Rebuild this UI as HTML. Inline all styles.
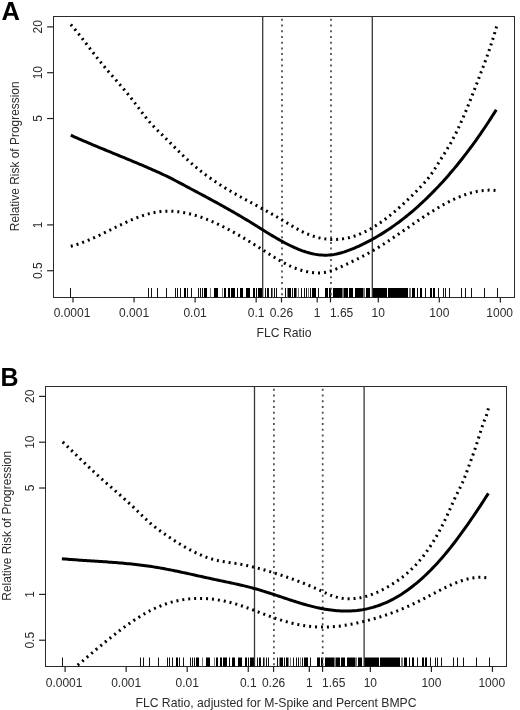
<!DOCTYPE html>
<html><head><meta charset="utf-8"><style>
html,body{margin:0;padding:0;background:#fff;}
svg{display:block;will-change:transform;}
text{font-family:"Liberation Sans",sans-serif;fill:#2b2b2b;}
</style></head><body>
<svg width="520" height="710" viewBox="0 0 520 710">
<rect width="520" height="710" fill="#fff"/>
<text x="1.6" y="19.6" font-family="Liberation Sans, sans-serif" font-weight="bold" font-size="25.5" style="fill:#000">A</text>
<clipPath id="cA"><rect x="53.5" y="16.5" width="461.0" height="281.0"/></clipPath>
<rect x="53.5" y="16.5" width="461.0" height="281.0" fill="none" stroke="#2a2a2a" stroke-width="1"/>
<line x1="47.1" y1="26.88" x2="53.5" y2="26.88" stroke="#222" stroke-width="1.2"/>
<text transform="translate(41.5,26.88) rotate(-90) scale(1,1.13)" text-anchor="middle" font-family="Liberation Sans, sans-serif" font-size="12">20</text>
<line x1="47.1" y1="72.70" x2="53.5" y2="72.70" stroke="#222" stroke-width="1.2"/>
<text transform="translate(41.5,72.70) rotate(-90) scale(1,1.13)" text-anchor="middle" font-family="Liberation Sans, sans-serif" font-size="12">10</text>
<line x1="47.1" y1="118.52" x2="53.5" y2="118.52" stroke="#222" stroke-width="1.2"/>
<text transform="translate(41.5,118.52) rotate(-90) scale(1,1.13)" text-anchor="middle" font-family="Liberation Sans, sans-serif" font-size="12">5</text>
<line x1="47.1" y1="224.90" x2="53.5" y2="224.90" stroke="#222" stroke-width="1.2"/>
<text transform="translate(41.5,224.90) rotate(-90) scale(1,1.13)" text-anchor="middle" font-family="Liberation Sans, sans-serif" font-size="12">1</text>
<line x1="47.1" y1="270.72" x2="53.5" y2="270.72" stroke="#222" stroke-width="1.2"/>
<text transform="translate(41.5,270.72) rotate(-90) scale(1,1.13)" text-anchor="middle" font-family="Liberation Sans, sans-serif" font-size="12">0.5</text>
<line x1="73.00" y1="297.5" x2="73.00" y2="302.4" stroke="#222" stroke-width="1.2"/>
<text x="72.00" y="317" text-anchor="middle" font-family="Liberation Sans, sans-serif" font-size="12">0.0001</text>
<line x1="134.05" y1="297.5" x2="134.05" y2="302.4" stroke="#222" stroke-width="1.2"/>
<text x="134.05" y="317" text-anchor="middle" font-family="Liberation Sans, sans-serif" font-size="12">0.001</text>
<line x1="195.10" y1="297.5" x2="195.10" y2="302.4" stroke="#222" stroke-width="1.2"/>
<text x="195.10" y="317" text-anchor="middle" font-family="Liberation Sans, sans-serif" font-size="12">0.01</text>
<line x1="256.15" y1="297.5" x2="256.15" y2="302.4" stroke="#222" stroke-width="1.2"/>
<text x="256.15" y="317" text-anchor="middle" font-family="Liberation Sans, sans-serif" font-size="12">0.1</text>
<line x1="281.48" y1="297.5" x2="281.48" y2="302.4" stroke="#222" stroke-width="1.2"/>
<text x="281.48" y="317" text-anchor="middle" font-family="Liberation Sans, sans-serif" font-size="12">0.26</text>
<line x1="317.20" y1="297.5" x2="317.20" y2="302.4" stroke="#222" stroke-width="1.2"/>
<text x="317.20" y="317" text-anchor="middle" font-family="Liberation Sans, sans-serif" font-size="12">1</text>
<line x1="330.48" y1="297.5" x2="330.48" y2="302.4" stroke="#222" stroke-width="1.2"/>
<text x="329.88" y="317" font-family="Liberation Sans, sans-serif" font-size="12">1.65</text>
<line x1="378.25" y1="297.5" x2="378.25" y2="302.4" stroke="#222" stroke-width="1.2"/>
<text x="378.25" y="317" text-anchor="middle" font-family="Liberation Sans, sans-serif" font-size="12">10</text>
<line x1="439.30" y1="297.5" x2="439.30" y2="302.4" stroke="#222" stroke-width="1.2"/>
<text x="439.30" y="317" text-anchor="middle" font-family="Liberation Sans, sans-serif" font-size="12">100</text>
<line x1="500.35" y1="297.5" x2="500.35" y2="302.4" stroke="#222" stroke-width="1.2"/>
<text x="499.65" y="317" text-anchor="middle" font-family="Liberation Sans, sans-serif" font-size="12">1000</text>
<text x="284.00" y="337" text-anchor="middle" font-family="Liberation Sans, sans-serif" font-size="12.2">FLC Ratio</text>
<text transform="translate(18.7,156.3) rotate(-90) scale(0.995,1.13)" text-anchor="middle" font-family="Liberation Sans, sans-serif" font-size="12">Relative Risk of Progression</text>
<line x1="70.5" y1="288" x2="70.5" y2="297.5" stroke="#111" stroke-width="1"/>
<line x1="148.5" y1="288" x2="148.5" y2="297.5" stroke="#111" stroke-width="1"/>
<line x1="151.5" y1="288" x2="151.5" y2="297.5" stroke="#111" stroke-width="1"/>
<line x1="157.5" y1="288" x2="157.5" y2="297.5" stroke="#111" stroke-width="1"/>
<line x1="166.5" y1="288" x2="166.5" y2="297.5" stroke="#111" stroke-width="1"/>
<line x1="175.5" y1="288" x2="175.5" y2="297.5" stroke="#111" stroke-width="1"/>
<line x1="177.5" y1="288" x2="177.5" y2="297.5" stroke="#111" stroke-width="1"/>
<line x1="180.5" y1="288" x2="180.5" y2="297.5" stroke="#111" stroke-width="1"/>
<line x1="187.5" y1="288" x2="187.5" y2="297.5" stroke="#111" stroke-width="1"/>
<line x1="191.5" y1="288" x2="191.5" y2="297.5" stroke="#111" stroke-width="1"/>
<line x1="198.5" y1="288" x2="198.5" y2="297.5" stroke="#111" stroke-width="1"/>
<line x1="200.5" y1="288" x2="200.5" y2="297.5" stroke="#111" stroke-width="1"/>
<line x1="202.5" y1="288" x2="202.5" y2="297.5" stroke="#111" stroke-width="1"/>
<line x1="265.5" y1="288" x2="265.5" y2="297.5" stroke="#111" stroke-width="1"/>
<line x1="267.5" y1="288" x2="267.5" y2="297.5" stroke="#111" stroke-width="1"/>
<line x1="268.5" y1="288" x2="268.5" y2="297.5" stroke="#111" stroke-width="1"/>
<line x1="271.5" y1="288" x2="271.5" y2="297.5" stroke="#111" stroke-width="1"/>
<line x1="274.5" y1="288" x2="274.5" y2="297.5" stroke="#111" stroke-width="1"/>
<line x1="276.5" y1="288" x2="276.5" y2="297.5" stroke="#111" stroke-width="1"/>
<line x1="285.5" y1="288" x2="285.5" y2="297.5" stroke="#111" stroke-width="1"/>
<line x1="292.5" y1="288" x2="292.5" y2="297.5" stroke="#111" stroke-width="1"/>
<line x1="301.5" y1="288" x2="301.5" y2="297.5" stroke="#111" stroke-width="1"/>
<line x1="304.5" y1="288" x2="304.5" y2="297.5" stroke="#111" stroke-width="1"/>
<line x1="306.5" y1="288" x2="306.5" y2="297.5" stroke="#111" stroke-width="1"/>
<line x1="310.5" y1="288" x2="310.5" y2="297.5" stroke="#111" stroke-width="1"/>
<line x1="318.5" y1="288" x2="318.5" y2="297.5" stroke="#111" stroke-width="1"/>
<line x1="425.5" y1="288" x2="425.5" y2="297.5" stroke="#111" stroke-width="1"/>
<line x1="438.5" y1="288" x2="438.5" y2="297.5" stroke="#111" stroke-width="1"/>
<line x1="443.5" y1="288" x2="443.5" y2="297.5" stroke="#111" stroke-width="1"/>
<line x1="445.5" y1="288" x2="445.5" y2="297.5" stroke="#111" stroke-width="1"/>
<line x1="449.5" y1="288" x2="449.5" y2="297.5" stroke="#111" stroke-width="1"/>
<line x1="461.5" y1="288" x2="461.5" y2="297.5" stroke="#111" stroke-width="1"/>
<line x1="465.5" y1="288" x2="465.5" y2="297.5" stroke="#111" stroke-width="1"/>
<line x1="471.5" y1="288" x2="471.5" y2="297.5" stroke="#111" stroke-width="1"/>
<line x1="484.5" y1="288" x2="484.5" y2="297.5" stroke="#111" stroke-width="1"/>
<line x1="497.5" y1="288" x2="497.5" y2="297.5" stroke="#111" stroke-width="1"/>
<line x1="210.5" y1="288" x2="210.5" y2="297.5" stroke="#777" stroke-width="1"/>
<line x1="222.5" y1="288" x2="222.5" y2="297.5" stroke="#777" stroke-width="1"/>
<line x1="272.5" y1="288" x2="272.5" y2="297.5" stroke="#777" stroke-width="1"/>
<line x1="287.5" y1="288" x2="287.5" y2="297.5" stroke="#777" stroke-width="1"/>
<line x1="296.5" y1="288" x2="296.5" y2="297.5" stroke="#777" stroke-width="1"/>
<line x1="298.5" y1="288" x2="298.5" y2="297.5" stroke="#777" stroke-width="1"/>
<line x1="308.5" y1="288" x2="308.5" y2="297.5" stroke="#777" stroke-width="1"/>
<rect x="184" y="288" width="2" height="9.5" fill="#000"/>
<rect x="204" y="288" width="3" height="9.5" fill="#000"/>
<rect x="214" y="288" width="4" height="9.5" fill="#000"/>
<rect x="224" y="288" width="2" height="9.5" fill="#000"/>
<rect x="228" y="288" width="2" height="9.5" fill="#000"/>
<rect x="231" y="288" width="4" height="9.5" fill="#000"/>
<rect x="237" y="288" width="1" height="9.5" fill="#000"/>
<rect x="240" y="288" width="3" height="9.5" fill="#000"/>
<rect x="246" y="288" width="4" height="9.5" fill="#000"/>
<rect x="253" y="288" width="2" height="9.5" fill="#000"/>
<rect x="256" y="288" width="1" height="9.5" fill="#000"/>
<rect x="258" y="288" width="5" height="9.5" fill="#000"/>
<rect x="288" y="288" width="3" height="9.5" fill="#000"/>
<rect x="294" y="288" width="2" height="9.5" fill="#000"/>
<rect x="312" y="288" width="4" height="9.5" fill="#000"/>
<rect x="325" y="288" width="3" height="9.5" fill="#000"/>
<rect x="329" y="288" width="2" height="9.5" fill="#000"/>
<rect x="333" y="288" width="9" height="9.5" fill="#000"/>
<rect x="344" y="288" width="4" height="9.5" fill="#000"/>
<rect x="349" y="288" width="4" height="9.5" fill="#000"/>
<rect x="355" y="288" width="8" height="9.5" fill="#000"/>
<rect x="366" y="288" width="4" height="9.5" fill="#000"/>
<rect x="372" y="288" width="15" height="9.5" fill="#000"/>
<rect x="388" y="288" width="20" height="9.5" fill="#000"/>
<rect x="412" y="288" width="3" height="9.5" fill="#000"/>
<rect x="417" y="288" width="1" height="9.5" fill="#000"/>
<rect x="420" y="288" width="2" height="9.5" fill="#000"/>
<rect x="430" y="288" width="2" height="9.5" fill="#000"/>
<rect x="433" y="288" width="2" height="9.5" fill="#000"/>
<rect x="342" y="288" width="2" height="9.5" fill="#777"/>
<rect x="363" y="288" width="2" height="9.5" fill="#777"/>
<rect x="409" y="288" width="2" height="9.5" fill="#777"/>
<line x1="262.7" y1="16.5" x2="262.7" y2="297.5" stroke="#383838" stroke-width="1.3"/>
<line x1="372.3" y1="16.5" x2="372.3" y2="297.5" stroke="#383838" stroke-width="1.3"/>
<line x1="282.0" y1="16.5" x2="282.0" y2="297.5" stroke="#4a4a4a" stroke-width="1.7" stroke-dasharray="2 3.72" stroke-dashoffset="-2.3"/>
<line x1="331.0" y1="16.5" x2="331.0" y2="297.5" stroke="#4a4a4a" stroke-width="1.7" stroke-dasharray="2 3.72" stroke-dashoffset="-2.3"/>
<g clip-path="url(#cA)" fill="none" stroke="#000">
<path d="M70.80,135.23 L72.80,136.13 L74.80,137.02 L76.79,137.90 L78.79,138.77 L80.79,139.64 L82.79,140.51 L84.78,141.37 L86.78,142.22 L88.78,143.07 L90.78,143.92 L92.77,144.76 L94.77,145.60 L96.77,146.43 L98.77,147.27 L100.76,148.10 L102.76,148.92 L104.76,149.75 L106.76,150.57 L108.76,151.39 L110.75,152.22 L112.75,153.04 L114.75,153.86 L116.75,154.68 L118.74,155.50 L120.74,156.32 L122.74,157.14 L124.74,157.96 L126.73,158.79 L128.73,159.62 L130.73,160.45 L132.73,161.28 L134.72,162.11 L136.72,162.95 L138.72,163.79 L140.72,164.64 L142.72,165.49 L144.71,166.34 L146.71,167.20 L148.71,168.06 L150.71,168.93 L152.70,169.81 L154.70,170.69 L156.70,171.58 L158.70,172.48 L160.69,173.40 L162.69,174.32 L164.69,175.26 L166.69,176.22 L168.68,177.19 L170.68,178.18 L172.68,179.19 L174.68,180.22 L176.68,181.26 L178.67,182.31 L180.67,183.37 L182.67,184.43 L184.67,185.50 L186.66,186.56 L188.66,187.63 L190.66,188.70 L192.66,189.76 L194.65,190.83 L196.65,191.90 L198.65,192.96 L200.65,194.03 L202.65,195.11 L204.64,196.18 L206.64,197.26 L208.64,198.34 L210.64,199.42 L212.63,200.51 L214.63,201.60 L216.63,202.69 L218.63,203.79 L220.62,204.90 L222.62,206.01 L224.62,207.12 L226.62,208.24 L228.61,209.37 L230.61,210.51 L232.61,211.65 L234.61,212.80 L236.61,213.96 L238.60,215.12 L240.60,216.30 L242.60,217.48 L244.60,218.67 L246.59,219.87 L248.59,221.08 L250.59,222.30 L252.59,223.54 L254.58,224.77 L256.58,226.02 L258.58,227.26 L260.58,228.51 L262.57,229.76 L264.57,231.00 L266.57,232.23 L268.57,233.46 L270.57,234.68 L272.56,235.88 L274.56,237.07 L276.56,238.24 L278.56,239.39 L280.55,240.52 L282.55,241.62 L284.55,242.70 L286.55,243.75 L288.54,244.77 L290.54,245.75 L292.54,246.70 L294.54,247.61 L296.53,248.48 L298.53,249.30 L300.53,250.08 L302.53,250.82 L304.53,251.50 L306.52,252.14 L308.52,252.71 L310.52,253.24 L312.52,253.70 L314.51,254.11 L316.51,254.45 L318.51,254.72 L320.51,254.93 L322.50,255.07 L324.50,255.14 L326.50,255.14 L328.50,255.06 L330.49,254.91 L332.49,254.67 L334.49,254.36 L336.49,253.98 L338.49,253.53 L340.48,253.01 L342.48,252.44 L344.48,251.82 L346.48,251.14 L348.47,250.42 L350.47,249.65 L352.47,248.85 L354.47,248.02 L356.46,247.16 L358.46,246.27 L360.46,245.35 L362.46,244.41 L364.45,243.43 L366.45,242.43 L368.45,241.40 L370.45,240.34 L372.45,239.25 L374.44,238.14 L376.44,236.99 L378.44,235.82 L380.44,234.61 L382.43,233.38 L384.43,232.12 L386.43,230.82 L388.43,229.50 L390.42,228.15 L392.42,226.77 L394.42,225.36 L396.42,223.91 L398.42,222.44 L400.41,220.94 L402.41,219.41 L404.41,217.84 L406.41,216.25 L408.40,214.62 L410.40,212.97 L412.40,211.28 L414.40,209.56 L416.39,207.81 L418.39,206.03 L420.39,204.22 L422.39,202.38 L424.38,200.50 L426.38,198.59 L428.38,196.65 L430.38,194.68 L432.38,192.67 L434.37,190.63 L436.37,188.56 L438.37,186.45 L440.37,184.31 L442.36,182.14 L444.36,179.93 L446.36,177.69 L448.36,175.41 L450.35,173.10 L452.35,170.75 L454.35,168.37 L456.35,165.95 L458.34,163.50 L460.34,161.01 L462.34,158.48 L464.34,155.92 L466.34,153.32 L468.33,150.68 L470.33,148.01 L472.33,145.30 L474.33,142.55 L476.32,139.76 L478.32,136.93 L480.32,134.07 L482.32,131.16 L484.31,128.22 L486.31,125.24 L488.31,122.22 L490.31,119.16 L492.30,116.06 L494.30,112.92 L496.30,109.74" stroke-width="3" stroke-linejoin="round"/>
<path d="M70.80,24.59 L72.80,26.89 L74.80,29.26 L76.80,31.69 L78.80,34.17 L80.80,36.69 L82.79,39.25 L84.79,41.83 L86.79,44.43 L88.79,47.05 L90.79,49.66 L92.79,52.26 L94.79,54.84 L96.79,57.41 L98.79,59.93 L100.79,62.42 L102.78,64.85 L104.78,67.24 L106.78,69.59 L108.78,71.91 L110.78,74.21 L112.78,76.49 L114.78,78.77 L116.78,81.05 L118.78,83.34 L120.78,85.64 L122.78,87.97 L124.77,90.33 L126.77,92.73 L128.77,95.19 L130.77,97.69 L132.77,100.26 L134.77,102.89 L136.77,105.54 L138.77,108.20 L140.77,110.86 L142.77,113.49 L144.77,116.07 L146.76,118.59 L148.76,121.02 L150.76,123.34 L152.76,125.54 L154.76,127.62 L156.76,129.61 L158.76,131.55 L160.76,133.47 L162.76,135.41 L164.76,137.38 L166.75,139.36 L168.75,141.36 L170.75,143.37 L172.75,145.37 L174.75,147.38 L176.75,149.38 L178.75,151.37 L180.75,153.34 L182.75,155.28 L184.75,157.20 L186.75,159.08 L188.74,160.93 L190.74,162.73 L192.74,164.49 L194.74,166.20 L196.74,167.87 L198.74,169.50 L200.74,171.09 L202.74,172.64 L204.74,174.16 L206.74,175.64 L208.74,177.09 L210.73,178.51 L212.73,179.90 L214.73,181.25 L216.73,182.58 L218.73,183.89 L220.73,185.17 L222.73,186.42 L224.73,187.66 L226.73,188.87 L228.73,190.07 L230.72,191.25 L232.72,192.41 L234.72,193.56 L236.72,194.70 L238.72,195.82 L240.72,196.94 L242.72,198.04 L244.72,199.14 L246.72,200.24 L248.72,201.33 L250.72,202.42 L252.71,203.50 L254.71,204.59 L256.71,205.67 L258.71,206.76 L260.71,207.85 L262.71,208.94 L264.71,210.04 L266.71,211.15 L268.71,212.26 L270.71,213.38 L272.71,214.52 L274.70,215.66 L276.70,216.81 L278.70,217.98 L280.70,219.16 L282.70,220.35 L284.70,221.56 L286.70,222.77 L288.70,223.97 L290.70,225.17 L292.70,226.36 L294.69,227.52 L296.69,228.65 L298.69,229.75 L300.69,230.81 L302.69,231.82 L304.69,232.77 L306.69,233.67 L308.69,234.50 L310.69,235.26 L312.69,235.96 L314.69,236.60 L316.68,237.18 L318.68,237.69 L320.68,238.14 L322.68,238.52 L324.68,238.84 L326.68,239.10 L328.68,239.29 L330.68,239.42 L332.68,239.49 L334.68,239.49 L336.68,239.43 L338.67,239.30 L340.67,239.11 L342.67,238.86 L344.67,238.54 L346.67,238.16 L348.67,237.72 L350.67,237.21 L352.67,236.64 L354.67,236.01 L356.67,235.31 L358.66,234.55 L360.66,233.73 L362.66,232.85 L364.66,231.91 L366.66,230.91 L368.66,229.85 L370.66,228.75 L372.66,227.58 L374.66,226.37 L376.66,225.10 L378.66,223.79 L380.65,222.42 L382.65,221.01 L384.65,219.55 L386.65,218.05 L388.65,216.50 L390.65,214.91 L392.65,213.28 L394.65,211.61 L396.65,209.90 L398.65,208.16 L400.65,206.37 L402.64,204.56 L404.64,202.70 L406.64,200.82 L408.64,198.91 L410.64,196.96 L412.64,194.99 L414.64,192.98 L416.64,190.96 L418.64,188.90 L420.64,186.83 L422.63,184.71 L424.63,182.52 L426.63,180.20 L428.63,177.72 L430.63,175.04 L432.63,172.14 L434.63,169.08 L436.63,165.91 L438.63,162.70 L440.63,159.50 L442.63,156.34 L444.62,153.18 L446.62,149.98 L448.62,146.67 L450.62,143.22 L452.62,139.57 L454.62,135.74 L456.62,131.72 L458.62,127.53 L460.62,123.17 L462.62,118.65 L464.62,114.00 L466.61,109.21 L468.61,104.32 L470.61,99.33 L472.61,94.26 L474.61,89.14 L476.61,83.97 L478.61,78.78 L480.61,73.57 L482.61,68.33 L484.61,63.00 L486.60,57.54 L488.60,51.90 L490.60,46.03 L492.60,39.87 L494.60,33.38 L496.60,26.52" stroke-width="3" stroke-dasharray="2.0 3.928"/>
<path d="M70.80,246.21 L72.79,245.69 L74.79,245.13 L76.78,244.52 L78.78,243.87 L80.77,243.17 L82.76,242.44 L84.76,241.68 L86.75,240.88 L88.75,240.06 L90.74,239.20 L92.73,238.33 L94.73,237.43 L96.72,236.50 L98.71,235.57 L100.71,234.62 L102.70,233.65 L104.70,232.68 L106.69,231.69 L108.68,230.71 L110.68,229.72 L112.67,228.73 L114.67,227.75 L116.66,226.77 L118.65,225.80 L120.65,224.83 L122.64,223.88 L124.64,222.95 L126.63,222.03 L128.62,221.14 L130.62,220.27 L132.61,219.42 L134.60,218.60 L136.60,217.81 L138.59,217.05 L140.59,216.33 L142.58,215.65 L144.57,215.01 L146.57,214.41 L148.56,213.85 L150.56,213.35 L152.55,212.89 L154.54,212.49 L156.54,212.14 L158.53,211.85 L160.53,211.61 L162.52,211.43 L164.51,211.30 L166.51,211.22 L168.50,211.20 L170.49,211.22 L172.49,211.30 L174.48,211.42 L176.48,211.59 L178.47,211.81 L180.46,212.07 L182.46,212.38 L184.45,212.73 L186.45,213.12 L188.44,213.56 L190.43,214.03 L192.43,214.54 L194.42,215.09 L196.42,215.68 L198.41,216.31 L200.40,216.97 L202.40,217.66 L204.39,218.39 L206.38,219.15 L208.38,219.95 L210.37,220.77 L212.37,221.62 L214.36,222.50 L216.35,223.41 L218.35,224.34 L220.34,225.30 L222.34,226.28 L224.33,227.29 L226.32,228.31 L228.32,229.36 L230.31,230.43 L232.31,231.52 L234.30,232.63 L236.29,233.75 L238.29,234.90 L240.28,236.05 L242.28,237.23 L244.27,238.41 L246.26,239.61 L248.26,240.82 L250.25,242.04 L252.24,243.28 L254.24,244.52 L256.23,245.77 L258.23,247.03 L260.22,248.29 L262.21,249.57 L264.21,250.84 L266.20,252.12 L268.20,253.40 L270.19,254.67 L272.18,255.93 L274.18,257.17 L276.17,258.40 L278.17,259.60 L280.16,260.77 L282.15,261.90 L284.15,263.00 L286.14,264.05 L288.13,265.06 L290.13,266.01 L292.12,266.90 L294.12,267.73 L296.11,268.50 L298.10,269.20 L300.10,269.85 L302.09,270.44 L304.09,270.97 L306.08,271.44 L308.07,271.87 L310.07,272.23 L312.06,272.52 L314.06,272.75 L316.05,272.89 L318.04,272.96 L320.04,272.93 L322.03,272.81 L324.02,272.58 L326.02,272.26 L328.01,271.81 L330.01,271.26 L332.00,270.59 L333.99,269.85 L335.99,269.03 L337.98,268.16 L339.98,267.27 L341.97,266.36 L343.96,265.44 L345.96,264.52 L347.95,263.59 L349.95,262.65 L351.94,261.70 L353.93,260.74 L355.93,259.76 L357.92,258.77 L359.92,257.76 L361.91,256.73 L363.90,255.69 L365.90,254.62 L367.89,253.53 L369.88,252.42 L371.88,251.28 L373.87,250.11 L375.87,248.92 L377.86,247.71 L379.85,246.47 L381.85,245.22 L383.84,243.94 L385.84,242.65 L387.83,241.34 L389.82,240.01 L391.82,238.68 L393.81,237.33 L395.81,235.97 L397.80,234.60 L399.79,233.23 L401.79,231.85 L403.78,230.47 L405.77,229.09 L407.77,227.71 L409.76,226.33 L411.76,224.95 L413.75,223.57 L415.74,222.20 L417.74,220.84 L419.73,219.49 L421.73,218.15 L423.72,216.82 L425.71,215.51 L427.71,214.21 L429.70,212.92 L431.70,211.66 L433.69,210.42 L435.68,209.19 L437.68,208.00 L439.67,206.82 L441.66,205.67 L443.66,204.55 L445.65,203.46 L447.65,202.40 L449.64,201.38 L451.63,200.38 L453.63,199.43 L455.62,198.51 L457.62,197.63 L459.61,196.79 L461.60,195.99 L463.60,195.24 L465.59,194.53 L467.59,193.86 L469.58,193.25 L471.57,192.69 L473.57,192.17 L475.56,191.71 L477.55,191.31 L479.55,190.96 L481.54,190.67 L483.54,190.44 L485.53,190.27 L487.52,190.16 L489.52,190.11 L491.51,190.13 L493.51,190.22 L495.50,190.38" stroke-width="3" stroke-dasharray="2.0 3.967"/>
</g>
<text x="0.4" y="386.4" font-family="Liberation Sans, sans-serif" font-weight="bold" font-size="25" style="fill:#000">B</text>
<clipPath id="cB"><rect x="45.5" y="386.5" width="461.0" height="280.0"/></clipPath>
<rect x="45.5" y="386.5" width="461.0" height="280.0" fill="none" stroke="#2a2a2a" stroke-width="1"/>
<line x1="39.1" y1="396.38" x2="45.5" y2="396.38" stroke="#222" stroke-width="1.2"/>
<text transform="translate(33.5,396.38) rotate(-90) scale(1,1.13)" text-anchor="middle" font-family="Liberation Sans, sans-serif" font-size="12">20</text>
<line x1="39.1" y1="442.20" x2="45.5" y2="442.20" stroke="#222" stroke-width="1.2"/>
<text transform="translate(33.5,442.20) rotate(-90) scale(1,1.13)" text-anchor="middle" font-family="Liberation Sans, sans-serif" font-size="12">10</text>
<line x1="39.1" y1="488.02" x2="45.5" y2="488.02" stroke="#222" stroke-width="1.2"/>
<text transform="translate(33.5,488.02) rotate(-90) scale(1,1.13)" text-anchor="middle" font-family="Liberation Sans, sans-serif" font-size="12">5</text>
<line x1="39.1" y1="594.40" x2="45.5" y2="594.40" stroke="#222" stroke-width="1.2"/>
<text transform="translate(33.5,594.40) rotate(-90) scale(1,1.13)" text-anchor="middle" font-family="Liberation Sans, sans-serif" font-size="12">1</text>
<line x1="39.1" y1="640.22" x2="45.5" y2="640.22" stroke="#222" stroke-width="1.2"/>
<text transform="translate(33.5,640.22) rotate(-90) scale(1,1.13)" text-anchor="middle" font-family="Liberation Sans, sans-serif" font-size="12">0.5</text>
<line x1="65.10" y1="666.5" x2="65.10" y2="671.9" stroke="#222" stroke-width="1.2"/>
<text x="64.10" y="686.5" text-anchor="middle" font-family="Liberation Sans, sans-serif" font-size="12">0.0001</text>
<line x1="126.15" y1="666.5" x2="126.15" y2="671.9" stroke="#222" stroke-width="1.2"/>
<text x="126.15" y="686.5" text-anchor="middle" font-family="Liberation Sans, sans-serif" font-size="12">0.001</text>
<line x1="187.20" y1="666.5" x2="187.20" y2="671.9" stroke="#222" stroke-width="1.2"/>
<text x="187.20" y="686.5" text-anchor="middle" font-family="Liberation Sans, sans-serif" font-size="12">0.01</text>
<line x1="248.25" y1="666.5" x2="248.25" y2="671.9" stroke="#222" stroke-width="1.2"/>
<text x="248.25" y="686.5" text-anchor="middle" font-family="Liberation Sans, sans-serif" font-size="12">0.1</text>
<line x1="273.58" y1="666.5" x2="273.58" y2="671.9" stroke="#222" stroke-width="1.2"/>
<text x="273.58" y="686.5" text-anchor="middle" font-family="Liberation Sans, sans-serif" font-size="12">0.26</text>
<line x1="309.30" y1="666.5" x2="309.30" y2="671.9" stroke="#222" stroke-width="1.2"/>
<text x="309.30" y="686.5" text-anchor="middle" font-family="Liberation Sans, sans-serif" font-size="12">1</text>
<line x1="322.58" y1="666.5" x2="322.58" y2="671.9" stroke="#222" stroke-width="1.2"/>
<text x="321.98" y="686.5" font-family="Liberation Sans, sans-serif" font-size="12">1.65</text>
<line x1="370.35" y1="666.5" x2="370.35" y2="671.9" stroke="#222" stroke-width="1.2"/>
<text x="370.35" y="686.5" text-anchor="middle" font-family="Liberation Sans, sans-serif" font-size="12">10</text>
<line x1="431.40" y1="666.5" x2="431.40" y2="671.9" stroke="#222" stroke-width="1.2"/>
<text x="431.40" y="686.5" text-anchor="middle" font-family="Liberation Sans, sans-serif" font-size="12">100</text>
<line x1="492.45" y1="666.5" x2="492.45" y2="671.9" stroke="#222" stroke-width="1.2"/>
<text x="491.75" y="686.5" text-anchor="middle" font-family="Liberation Sans, sans-serif" font-size="12">1000</text>
<text x="276.00" y="706.5" text-anchor="middle" font-family="Liberation Sans, sans-serif" font-size="12.2">FLC Ratio, adjusted for M-Spike and Percent BMPC</text>
<text transform="translate(10.7,525.8) rotate(-90) scale(0.995,1.13)" text-anchor="middle" font-family="Liberation Sans, sans-serif" font-size="12">Relative Risk of Progression</text>
<line x1="62.5" y1="657.5" x2="62.5" y2="666.5" stroke="#111" stroke-width="1"/>
<line x1="140.5" y1="657.5" x2="140.5" y2="666.5" stroke="#111" stroke-width="1"/>
<line x1="143.5" y1="657.5" x2="143.5" y2="666.5" stroke="#111" stroke-width="1"/>
<line x1="149.5" y1="657.5" x2="149.5" y2="666.5" stroke="#111" stroke-width="1"/>
<line x1="158.5" y1="657.5" x2="158.5" y2="666.5" stroke="#111" stroke-width="1"/>
<line x1="167.5" y1="657.5" x2="167.5" y2="666.5" stroke="#111" stroke-width="1"/>
<line x1="169.5" y1="657.5" x2="169.5" y2="666.5" stroke="#111" stroke-width="1"/>
<line x1="172.5" y1="657.5" x2="172.5" y2="666.5" stroke="#111" stroke-width="1"/>
<line x1="179.5" y1="657.5" x2="179.5" y2="666.5" stroke="#111" stroke-width="1"/>
<line x1="183.5" y1="657.5" x2="183.5" y2="666.5" stroke="#111" stroke-width="1"/>
<line x1="190.5" y1="657.5" x2="190.5" y2="666.5" stroke="#111" stroke-width="1"/>
<line x1="192.5" y1="657.5" x2="192.5" y2="666.5" stroke="#111" stroke-width="1"/>
<line x1="194.5" y1="657.5" x2="194.5" y2="666.5" stroke="#111" stroke-width="1"/>
<line x1="257.5" y1="657.5" x2="257.5" y2="666.5" stroke="#111" stroke-width="1"/>
<line x1="259.5" y1="657.5" x2="259.5" y2="666.5" stroke="#111" stroke-width="1"/>
<line x1="260.5" y1="657.5" x2="260.5" y2="666.5" stroke="#111" stroke-width="1"/>
<line x1="263.5" y1="657.5" x2="263.5" y2="666.5" stroke="#111" stroke-width="1"/>
<line x1="266.5" y1="657.5" x2="266.5" y2="666.5" stroke="#111" stroke-width="1"/>
<line x1="268.5" y1="657.5" x2="268.5" y2="666.5" stroke="#111" stroke-width="1"/>
<line x1="277.5" y1="657.5" x2="277.5" y2="666.5" stroke="#111" stroke-width="1"/>
<line x1="284.5" y1="657.5" x2="284.5" y2="666.5" stroke="#111" stroke-width="1"/>
<line x1="293.5" y1="657.5" x2="293.5" y2="666.5" stroke="#111" stroke-width="1"/>
<line x1="296.5" y1="657.5" x2="296.5" y2="666.5" stroke="#111" stroke-width="1"/>
<line x1="298.5" y1="657.5" x2="298.5" y2="666.5" stroke="#111" stroke-width="1"/>
<line x1="302.5" y1="657.5" x2="302.5" y2="666.5" stroke="#111" stroke-width="1"/>
<line x1="310.5" y1="657.5" x2="310.5" y2="666.5" stroke="#111" stroke-width="1"/>
<line x1="417.5" y1="657.5" x2="417.5" y2="666.5" stroke="#111" stroke-width="1"/>
<line x1="430.5" y1="657.5" x2="430.5" y2="666.5" stroke="#111" stroke-width="1"/>
<line x1="435.5" y1="657.5" x2="435.5" y2="666.5" stroke="#111" stroke-width="1"/>
<line x1="437.5" y1="657.5" x2="437.5" y2="666.5" stroke="#111" stroke-width="1"/>
<line x1="441.5" y1="657.5" x2="441.5" y2="666.5" stroke="#111" stroke-width="1"/>
<line x1="453.5" y1="657.5" x2="453.5" y2="666.5" stroke="#111" stroke-width="1"/>
<line x1="457.5" y1="657.5" x2="457.5" y2="666.5" stroke="#111" stroke-width="1"/>
<line x1="463.5" y1="657.5" x2="463.5" y2="666.5" stroke="#111" stroke-width="1"/>
<line x1="476.5" y1="657.5" x2="476.5" y2="666.5" stroke="#111" stroke-width="1"/>
<line x1="489.5" y1="657.5" x2="489.5" y2="666.5" stroke="#111" stroke-width="1"/>
<line x1="202.5" y1="657.5" x2="202.5" y2="666.5" stroke="#777" stroke-width="1"/>
<line x1="214.5" y1="657.5" x2="214.5" y2="666.5" stroke="#777" stroke-width="1"/>
<line x1="264.5" y1="657.5" x2="264.5" y2="666.5" stroke="#777" stroke-width="1"/>
<line x1="279.5" y1="657.5" x2="279.5" y2="666.5" stroke="#777" stroke-width="1"/>
<line x1="288.5" y1="657.5" x2="288.5" y2="666.5" stroke="#777" stroke-width="1"/>
<line x1="290.5" y1="657.5" x2="290.5" y2="666.5" stroke="#777" stroke-width="1"/>
<line x1="300.5" y1="657.5" x2="300.5" y2="666.5" stroke="#777" stroke-width="1"/>
<rect x="176" y="657.5" width="2" height="9.0" fill="#000"/>
<rect x="196" y="657.5" width="3" height="9.0" fill="#000"/>
<rect x="206" y="657.5" width="4" height="9.0" fill="#000"/>
<rect x="216" y="657.5" width="2" height="9.0" fill="#000"/>
<rect x="220" y="657.5" width="2" height="9.0" fill="#000"/>
<rect x="223" y="657.5" width="4" height="9.0" fill="#000"/>
<rect x="229" y="657.5" width="1" height="9.0" fill="#000"/>
<rect x="232" y="657.5" width="3" height="9.0" fill="#000"/>
<rect x="238" y="657.5" width="4" height="9.0" fill="#000"/>
<rect x="245" y="657.5" width="2" height="9.0" fill="#000"/>
<rect x="248" y="657.5" width="1" height="9.0" fill="#000"/>
<rect x="250" y="657.5" width="5" height="9.0" fill="#000"/>
<rect x="280" y="657.5" width="3" height="9.0" fill="#000"/>
<rect x="286" y="657.5" width="2" height="9.0" fill="#000"/>
<rect x="304" y="657.5" width="4" height="9.0" fill="#000"/>
<rect x="317" y="657.5" width="3" height="9.0" fill="#000"/>
<rect x="321" y="657.5" width="2" height="9.0" fill="#000"/>
<rect x="325" y="657.5" width="9" height="9.0" fill="#000"/>
<rect x="336" y="657.5" width="4" height="9.0" fill="#000"/>
<rect x="341" y="657.5" width="4" height="9.0" fill="#000"/>
<rect x="347" y="657.5" width="8" height="9.0" fill="#000"/>
<rect x="358" y="657.5" width="4" height="9.0" fill="#000"/>
<rect x="364" y="657.5" width="15" height="9.0" fill="#000"/>
<rect x="380" y="657.5" width="20" height="9.0" fill="#000"/>
<rect x="404" y="657.5" width="3" height="9.0" fill="#000"/>
<rect x="409" y="657.5" width="1" height="9.0" fill="#000"/>
<rect x="412" y="657.5" width="2" height="9.0" fill="#000"/>
<rect x="422" y="657.5" width="2" height="9.0" fill="#000"/>
<rect x="425" y="657.5" width="2" height="9.0" fill="#000"/>
<rect x="334" y="657.5" width="2" height="9.0" fill="#777"/>
<rect x="355" y="657.5" width="2" height="9.0" fill="#777"/>
<rect x="401" y="657.5" width="2" height="9.0" fill="#777"/>
<line x1="254.5" y1="386.5" x2="254.5" y2="666.5" stroke="#383838" stroke-width="1.3"/>
<line x1="364.1" y1="386.5" x2="364.1" y2="666.5" stroke="#383838" stroke-width="1.3"/>
<line x1="273.9" y1="386.5" x2="273.9" y2="666.5" stroke="#4a4a4a" stroke-width="1.7" stroke-dasharray="2 3.72" stroke-dashoffset="-2.3"/>
<line x1="322.7" y1="386.5" x2="322.7" y2="666.5" stroke="#4a4a4a" stroke-width="1.7" stroke-dasharray="2 3.72" stroke-dashoffset="-2.3"/>
<g clip-path="url(#cB)" fill="none" stroke="#000">
<path d="M61.90,558.73 L63.89,558.90 L65.89,559.07 L67.88,559.23 L69.87,559.39 L71.86,559.55 L73.86,559.70 L75.85,559.84 L77.84,559.99 L79.84,560.13 L81.83,560.26 L83.82,560.40 L85.82,560.53 L87.81,560.67 L89.80,560.80 L91.79,560.93 L93.79,561.06 L95.78,561.19 L97.77,561.32 L99.77,561.46 L101.76,561.59 L103.75,561.73 L105.75,561.87 L107.74,562.01 L109.73,562.15 L111.72,562.30 L113.72,562.45 L115.71,562.61 L117.70,562.77 L119.70,562.94 L121.69,563.11 L123.68,563.28 L125.68,563.47 L127.67,563.66 L129.66,563.85 L131.65,564.06 L133.65,564.27 L135.64,564.49 L137.63,564.71 L139.63,564.95 L141.62,565.20 L143.61,565.45 L145.61,565.72 L147.60,566.00 L149.59,566.28 L151.58,566.58 L153.58,566.89 L155.57,567.21 L157.56,567.54 L159.56,567.89 L161.55,568.24 L163.54,568.60 L165.54,568.97 L167.53,569.35 L169.52,569.73 L171.51,570.13 L173.51,570.53 L175.50,570.93 L177.49,571.34 L179.49,571.76 L181.48,572.18 L183.47,572.61 L185.47,573.04 L187.46,573.47 L189.45,573.91 L191.44,574.35 L193.44,574.79 L195.43,575.23 L197.42,575.67 L199.42,576.12 L201.41,576.56 L203.40,577.00 L205.40,577.44 L207.39,577.88 L209.38,578.32 L211.37,578.75 L213.37,579.18 L215.36,579.61 L217.35,580.03 L219.35,580.45 L221.34,580.87 L223.33,581.29 L225.33,581.71 L227.32,582.13 L229.31,582.55 L231.30,582.97 L233.30,583.40 L235.29,583.84 L237.28,584.28 L239.28,584.73 L241.27,585.19 L243.26,585.66 L245.26,586.14 L247.25,586.63 L249.24,587.14 L251.23,587.65 L253.23,588.19 L255.22,588.74 L257.21,589.30 L259.21,589.89 L261.20,590.48 L263.19,591.09 L265.19,591.71 L267.18,592.34 L269.17,592.98 L271.16,593.63 L273.16,594.28 L275.15,594.94 L277.14,595.60 L279.14,596.26 L281.13,596.92 L283.12,597.59 L285.11,598.25 L287.11,598.91 L289.10,599.57 L291.09,600.22 L293.09,600.86 L295.08,601.50 L297.07,602.12 L299.07,602.74 L301.06,603.34 L303.05,603.94 L305.04,604.51 L307.04,605.07 L309.03,605.62 L311.02,606.14 L313.02,606.65 L315.01,607.13 L317.00,607.59 L319.00,608.03 L320.99,608.45 L322.98,608.84 L324.97,609.20 L326.97,609.53 L328.96,609.83 L330.95,610.10 L332.95,610.34 L334.94,610.54 L336.93,610.72 L338.93,610.85 L340.92,610.96 L342.91,611.03 L344.90,611.06 L346.90,611.05 L348.89,611.01 L350.88,610.93 L352.88,610.81 L354.87,610.65 L356.86,610.46 L358.86,610.22 L360.85,609.94 L362.84,609.62 L364.83,609.25 L366.83,608.85 L368.82,608.40 L370.81,607.90 L372.81,607.36 L374.80,606.77 L376.79,606.14 L378.79,605.46 L380.78,604.74 L382.77,603.96 L384.76,603.14 L386.76,602.26 L388.75,601.34 L390.74,600.37 L392.74,599.34 L394.73,598.26 L396.72,597.14 L398.72,595.96 L400.71,594.73 L402.70,593.45 L404.69,592.12 L406.69,590.73 L408.68,589.30 L410.67,587.81 L412.67,586.28 L414.66,584.69 L416.65,583.06 L418.65,581.37 L420.64,579.64 L422.63,577.85 L424.62,576.01 L426.62,574.12 L428.61,572.18 L430.60,570.20 L432.60,568.16 L434.59,566.07 L436.58,563.93 L438.58,561.74 L440.57,559.50 L442.56,557.22 L444.55,554.88 L446.55,552.49 L448.54,550.05 L450.53,547.57 L452.53,545.04 L454.52,542.46 L456.51,539.84 L458.51,537.17 L460.50,534.47 L462.49,531.73 L464.48,528.95 L466.48,526.14 L468.47,523.29 L470.46,520.41 L472.46,517.50 L474.45,514.57 L476.44,511.60 L478.44,508.61 L480.43,505.60 L482.42,502.57 L484.41,499.51 L486.41,496.44 L488.40,493.35" stroke-width="3" stroke-linejoin="round"/>
<path d="M62.70,441.92 L64.70,443.85 L66.70,445.77 L68.70,447.70 L70.69,449.64 L72.69,451.57 L74.69,453.51 L76.69,455.44 L78.69,457.37 L80.69,459.30 L82.69,461.22 L84.68,463.13 L86.68,465.03 L88.68,466.93 L90.68,468.81 L92.68,470.68 L94.68,472.53 L96.68,474.37 L98.67,476.19 L100.67,478.00 L102.67,479.79 L104.67,481.56 L106.67,483.32 L108.67,485.08 L110.67,486.82 L112.66,488.57 L114.66,490.31 L116.66,492.06 L118.66,493.81 L120.66,495.57 L122.66,497.34 L124.66,499.12 L126.65,500.92 L128.65,502.74 L130.65,504.58 L132.65,506.44 L134.65,508.33 L136.65,510.25 L138.65,512.19 L140.65,514.14 L142.64,516.09 L144.64,518.01 L146.64,519.90 L148.64,521.73 L150.64,523.50 L152.64,525.19 L154.64,526.79 L156.63,528.33 L158.63,529.82 L160.63,531.26 L162.63,532.67 L164.63,534.06 L166.63,535.43 L168.63,536.79 L170.62,538.13 L172.62,539.45 L174.62,540.74 L176.62,542.02 L178.62,543.27 L180.62,544.49 L182.62,545.69 L184.61,546.86 L186.61,547.99 L188.61,549.10 L190.61,550.17 L192.61,551.20 L194.61,552.20 L196.61,553.16 L198.60,554.08 L200.60,554.96 L202.60,555.80 L204.60,556.59 L206.60,557.33 L208.60,558.03 L210.60,558.68 L212.59,559.27 L214.59,559.82 L216.59,560.31 L218.59,560.75 L220.59,561.15 L222.59,561.51 L224.59,561.85 L226.58,562.16 L228.58,562.46 L230.58,562.75 L232.58,563.04 L234.58,563.33 L236.58,563.63 L238.58,563.95 L240.57,564.30 L242.57,564.67 L244.57,565.06 L246.57,565.48 L248.57,565.92 L250.57,566.37 L252.57,566.85 L254.56,567.34 L256.56,567.85 L258.56,568.38 L260.56,568.93 L262.56,569.48 L264.56,570.05 L266.56,570.64 L268.55,571.23 L270.55,571.84 L272.55,572.45 L274.55,573.07 L276.55,573.70 L278.55,574.34 L280.55,574.99 L282.55,575.64 L284.54,576.31 L286.54,576.99 L288.54,577.67 L290.54,578.37 L292.54,579.08 L294.54,579.81 L296.54,580.54 L298.53,581.29 L300.53,582.05 L302.53,582.83 L304.53,583.62 L306.53,584.43 L308.53,585.25 L310.53,586.09 L312.52,586.94 L314.52,587.81 L316.52,588.70 L318.52,589.61 L320.52,590.53 L322.52,591.48 L324.52,592.44 L326.51,593.39 L328.51,594.30 L330.51,595.13 L332.51,595.88 L334.51,596.53 L336.51,597.10 L338.51,597.58 L340.50,597.98 L342.50,598.30 L344.50,598.53 L346.50,598.68 L348.50,598.76 L350.50,598.76 L352.50,598.69 L354.49,598.54 L356.49,598.32 L358.49,598.03 L360.49,597.67 L362.49,597.25 L364.49,596.76 L366.49,596.21 L368.48,595.60 L370.48,594.93 L372.48,594.20 L374.48,593.41 L376.48,592.57 L378.48,591.67 L380.48,590.72 L382.47,589.73 L384.47,588.68 L386.47,587.59 L388.47,586.45 L390.47,585.27 L392.47,584.04 L394.47,582.77 L396.46,581.44 L398.46,580.05 L400.46,578.61 L402.46,577.09 L404.46,575.50 L406.46,573.84 L408.46,572.09 L410.45,570.26 L412.45,568.34 L414.45,566.32 L416.45,564.20 L418.45,561.97 L420.45,559.63 L422.45,557.18 L424.45,554.61 L426.44,551.91 L428.44,549.08 L430.44,546.12 L432.44,543.02 L434.44,539.77 L436.44,536.38 L438.44,532.83 L440.43,529.12 L442.43,525.25 L444.43,521.21 L446.43,517.00 L448.43,512.62 L450.43,508.13 L452.43,503.63 L454.42,499.23 L456.42,495.02 L458.42,491.02 L460.42,487.01 L462.42,482.77 L464.42,478.07 L466.42,472.84 L468.41,467.32 L470.41,461.78 L472.41,456.34 L474.41,450.78 L476.41,444.88 L478.41,438.57 L480.41,432.17 L482.40,426.03 L484.40,420.51 L486.40,415.54 L488.40,408.39" stroke-width="3" stroke-dasharray="2.0 3.951"/>
<path d="M64.00,676.71 L65.99,675.05 L67.98,673.38 L69.98,671.70 L71.97,670.02 L73.96,668.33 L75.95,666.64 L77.94,664.95 L79.94,663.25 L81.93,661.56 L83.92,659.86 L85.91,658.17 L87.90,656.48 L89.90,654.80 L91.89,653.11 L93.88,651.44 L95.87,649.76 L97.86,648.10 L99.86,646.44 L101.85,644.80 L103.84,643.16 L105.83,641.53 L107.82,639.92 L109.82,638.32 L111.81,636.73 L113.80,635.15 L115.79,633.59 L117.78,632.05 L119.78,630.53 L121.77,629.03 L123.76,627.54 L125.75,626.09 L127.74,624.65 L129.74,623.24 L131.73,621.86 L133.72,620.51 L135.71,619.19 L137.70,617.90 L139.70,616.65 L141.69,615.43 L143.68,614.24 L145.67,613.10 L147.66,611.99 L149.66,610.93 L151.65,609.91 L153.64,608.93 L155.63,608.00 L157.62,607.12 L159.62,606.28 L161.61,605.49 L163.60,604.74 L165.59,604.03 L167.58,603.37 L169.57,602.76 L171.57,602.18 L173.56,601.65 L175.55,601.16 L177.54,600.71 L179.53,600.31 L181.53,599.94 L183.52,599.62 L185.51,599.33 L187.50,599.08 L189.49,598.88 L191.49,598.71 L193.48,598.58 L195.47,598.48 L197.46,598.43 L199.45,598.41 L201.45,598.42 L203.44,598.48 L205.43,598.57 L207.42,598.69 L209.41,598.85 L211.41,599.04 L213.40,599.27 L215.39,599.53 L217.38,599.82 L219.37,600.14 L221.37,600.50 L223.36,600.88 L225.35,601.30 L227.34,601.75 L229.33,602.23 L231.33,602.74 L233.32,603.28 L235.31,603.85 L237.30,604.44 L239.29,605.06 L241.29,605.71 L243.28,606.39 L245.27,607.08 L247.26,607.80 L249.25,608.53 L251.25,609.27 L253.24,610.02 L255.23,610.78 L257.22,611.55 L259.21,612.32 L261.21,613.08 L263.20,613.85 L265.19,614.61 L267.18,615.36 L269.17,616.10 L271.17,616.82 L273.16,617.53 L275.15,618.22 L277.14,618.89 L279.13,619.54 L281.13,620.16 L283.12,620.76 L285.11,621.34 L287.10,621.90 L289.09,622.43 L291.09,622.94 L293.08,623.42 L295.07,623.87 L297.06,624.30 L299.05,624.70 L301.05,625.07 L303.04,625.41 L305.03,625.72 L307.02,626.01 L309.01,626.26 L311.01,626.48 L313.00,626.67 L314.99,626.82 L316.98,626.95 L318.97,627.04 L320.97,627.09 L322.96,627.11 L324.95,627.10 L326.94,627.05 L328.93,626.97 L330.93,626.86 L332.92,626.72 L334.91,626.56 L336.90,626.36 L338.89,626.14 L340.89,625.89 L342.88,625.62 L344.87,625.32 L346.86,625.00 L348.85,624.65 L350.85,624.28 L352.84,623.90 L354.83,623.49 L356.82,623.07 L358.81,622.62 L360.81,622.16 L362.80,621.69 L364.79,621.20 L366.78,620.69 L368.77,620.17 L370.77,619.63 L372.76,619.08 L374.75,618.51 L376.74,617.93 L378.73,617.33 L380.73,616.71 L382.72,616.08 L384.71,615.43 L386.70,614.76 L388.69,614.07 L390.68,613.36 L392.68,612.64 L394.67,611.89 L396.66,611.13 L398.65,610.34 L400.64,609.54 L402.64,608.71 L404.63,607.87 L406.62,607.00 L408.61,606.11 L410.60,605.20 L412.60,604.26 L414.59,603.31 L416.58,602.34 L418.57,601.34 L420.56,600.34 L422.56,599.32 L424.55,598.30 L426.54,597.26 L428.53,596.22 L430.52,595.17 L432.52,594.13 L434.51,593.08 L436.50,592.04 L438.49,591.01 L440.48,589.98 L442.48,588.97 L444.47,587.98 L446.46,587.02 L448.45,586.07 L450.44,585.16 L452.44,584.28 L454.43,583.43 L456.42,582.63 L458.41,581.86 L460.40,581.15 L462.40,580.48 L464.39,579.87 L466.38,579.31 L468.37,578.82 L470.36,578.39 L472.36,578.02 L474.35,577.73 L476.34,577.51 L478.33,577.37 L480.32,577.31 L482.32,577.34 L484.31,577.45 L486.30,577.66" stroke-width="3" stroke-dasharray="2.0 3.952"/>
</g>
</svg>
</body></html>
